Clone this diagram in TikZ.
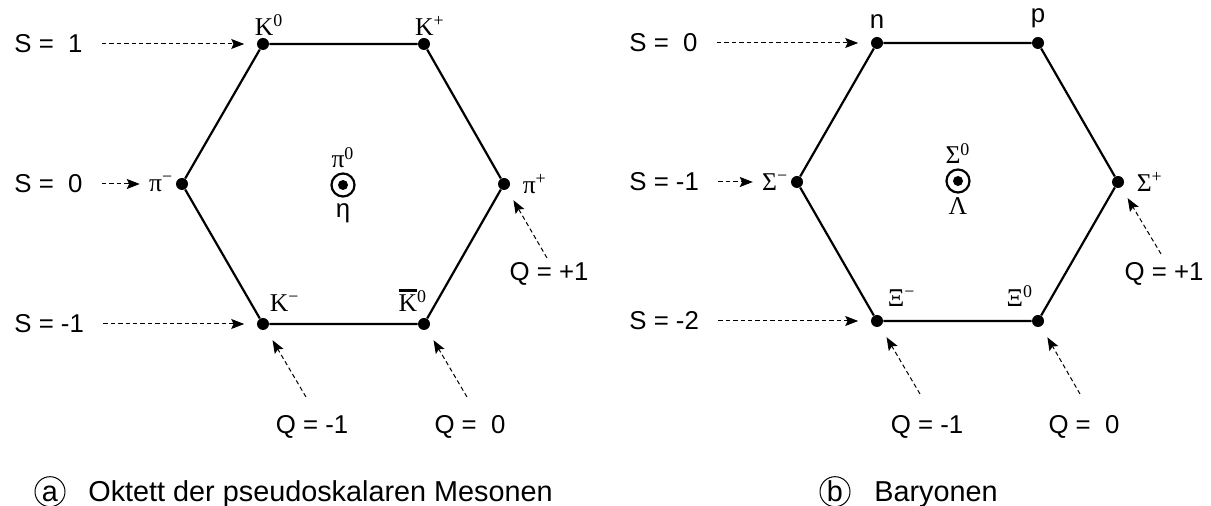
\documentclass[tikz,border=0pt]{standalone}
\usepackage{fontspec}
\setmainfont{Liberation Sans}
\newfontfamily\partfont{Liberation Serif}
\usetikzlibrary{arrows.meta,positioning}

\newcommand{\antiK}{\rlap{\rule[9.6pt]{9.2pt}{1.2pt}}K}

\begin{document}
\begin{tikzpicture}[
  x=0.5pt, y=-0.5pt,
  vtx/.style={circle, fill, inner sep=0pt, minimum size=6pt},
  ring/.style={circle, draw, line width=1.1pt, inner sep=0pt, minimum size=11.5pt},
  cdot/.style={circle, fill, inner sep=0pt, minimum size=5pt},
  lbl/.style={font=\fontsize{12.9}{15}\selectfont, inner sep=1pt},
  part/.style={font=\partfont\fontsize{12.8}{15}\selectfont, inner sep=1pt},
  captxt/.style={font=\fontsize{14.4}{17}\selectfont, inner sep=0pt},
  tagcirc/.style={circle, draw, line width=0.5pt, inner sep=0pt, minimum size=15pt,
    text height=10.3pt, text depth=0pt, font=\fontsize{14.4}{17}\selectfont},
  hexline/.style={line width=1.1pt},
  hint/.style={-{Stealth[length=6.5pt, width=5pt, inset=1.2pt]}, dash pattern=on 2.2pt off 1.5pt, line width=0.5pt}
]
  \useasboundingbox (0,0) rectangle (1211,506);

  % meson octet
  \node[vtx] (k0) at (263,44) {};
  \node[vtx] (kp) at (424,44) {};
  \node[vtx] (pip) at (504,184) {};
  \node[vtx] (kb0) at (424,324) {};
  \node[vtx] (km) at (263,324) {};
  \node[vtx] (pim) at (182,184) {};
  \node[ring] (mring) at (343,185) {};
  \node[cdot] (mdot) at (mring) {};

  \node[part, above=0pt of k0, xshift=3pt] (k0l) {K\textsuperscript{0}};
  \node[part, above=0pt of kp, xshift=3pt] (kpl) {K\textsuperscript{+}};
  \node[part, right=5pt of pip] (pipl) {π\textsuperscript{+}};
  \node[part, above left=3pt and -5pt of kb0] (kb0l) {\antiK\textsuperscript{0}};
  \node[part, above right=3pt and 0pt of km] (kml) {K\textsuperscript{−}};
  \node[part, left=0pt of pim] (piml) {π\textsuperscript{−}};
  \node[part, above=1pt of mring] (pi0l) {π\textsuperscript{0}};
  \node[lbl, below=2pt of mring] (etal) {η};

  \draw[hexline] (k0) -- (kp) -- (pip) -- (kb0) -- (km) -- (pim) -- (k0);

  \node[lbl, anchor=west] (msa) at (12,44) {S =\ \ 1};
  \node[lbl, anchor=west] (msb) at (12,184) {S =\ \ 0};
  \node[lbl, anchor=west] (msc) at (12,324) {S = -1};
  \draw[hint, shorten <=8.5pt, shorten >=6.2pt] (msa.east) -- (k0);
  \draw[hint, shorten <=8.5pt, shorten >=3.5pt] (msb.east) -- (msb.east -| piml.west);
  \draw[hint, shorten <=8.5pt, shorten >=6.2pt] (msc.east) -- (km);

  \node[lbl] (mqa) at (312,427) {Q = -1};
  \node[lbl] (mqb) at (470,427) {Q =\ \ 0};
  \node[lbl] (mqc) at (549,274) {Q = +1};
  \coordinate (mqat) at (306,397);
  \coordinate (mqbt) at (467,397);
  \coordinate (mqct) at (547,258);
  \draw[hint, shorten >=6.2pt] (mqat) -- (km);
  \draw[hint, shorten >=6.2pt] (mqbt) -- (kb0);
  \draw[hint, shorten >=6.2pt] (mqct) -- (pip);

  % baryon octet
  \node[vtx] (nn) at (877,43) {};
  \node[vtx] (pp) at (1038,43) {};
  \node[vtx] (sgp) at (1118,182) {};
  \node[vtx] (xi0) at (1038,321) {};
  \node[vtx] (xim) at (877,321) {};
  \node[vtx] (sgm) at (797,182) {};
  \node[ring] (bring) at (958,181) {};
  \node[cdot] (bdot) at (bring) {};

  \node[lbl, above=3pt of nn] (nnl) {n};
  \node[lbl, above=3pt of pp] (ppl) {p};
  \node[part, right=5pt of sgp] (sgpl) {Σ\textsuperscript{+}};
  \node[part, above left=4pt and -1pt of xi0] (xi0l) {Ξ\textsuperscript{0}};
  \node[part, above right=4pt and 2pt of xim] (ximl) {Ξ\textsuperscript{−}};
  \node[part, left=0pt of sgm] (sgml) {Σ\textsuperscript{−}};
  \node[part, above=1pt of bring] (sg0l) {Σ\textsuperscript{0}};
  \node[part, below=1pt of bring] (laml) {Λ};

  \draw[hexline] (nn) -- (pp) -- (sgp) -- (xi0) -- (xim) -- (sgm) -- (nn);

  \node[lbl, anchor=west] (bsa) at (627,43) {S =\ \ 0};
  \node[lbl, anchor=west] (bsb) at (627,182) {S = -1};
  \node[lbl, anchor=west] (bsc) at (627,321) {S = -2};
  \draw[hint, shorten <=8.5pt, shorten >=6.2pt] (bsa.east) -- (nn);
  \draw[hint, shorten <=8.5pt, shorten >=3.5pt] (bsb.east) -- (bsb.east -| sgml.west);
  \draw[hint, shorten <=8.5pt, shorten >=6.2pt] (bsc.east) -- (xim);

  \node[lbl] (bqa) at (927,427) {Q = -1};
  \node[lbl] (bqb) at (1084,427) {Q =\ \ 0};
  \node[lbl] (bqc) at (1164,274) {Q = +1};
  \coordinate (bqat) at (920,394);
  \coordinate (bqbt) at (1080,394);
  \coordinate (bqct) at (1161,254);
  \draw[hint, shorten >=6.2pt] (bqat) -- (xim);
  \draw[hint, shorten >=6.2pt] (bqbt) -- (xi0);
  \draw[hint, shorten >=6.2pt] (bqct) -- (sgp);

  % captions
  \node[tagcirc, anchor=base] (taga) at (50,502) {a};
  \node[captxt, anchor=base west] (capa) at (88,502) {Oktett der pseudoskalaren Mesonen};
  \node[tagcirc, anchor=base] (tagb) at (835,502) {b};
  \node[captxt, anchor=base west] (capb) at (874,502) {Baryonen};
\end{tikzpicture}
\end{document}
